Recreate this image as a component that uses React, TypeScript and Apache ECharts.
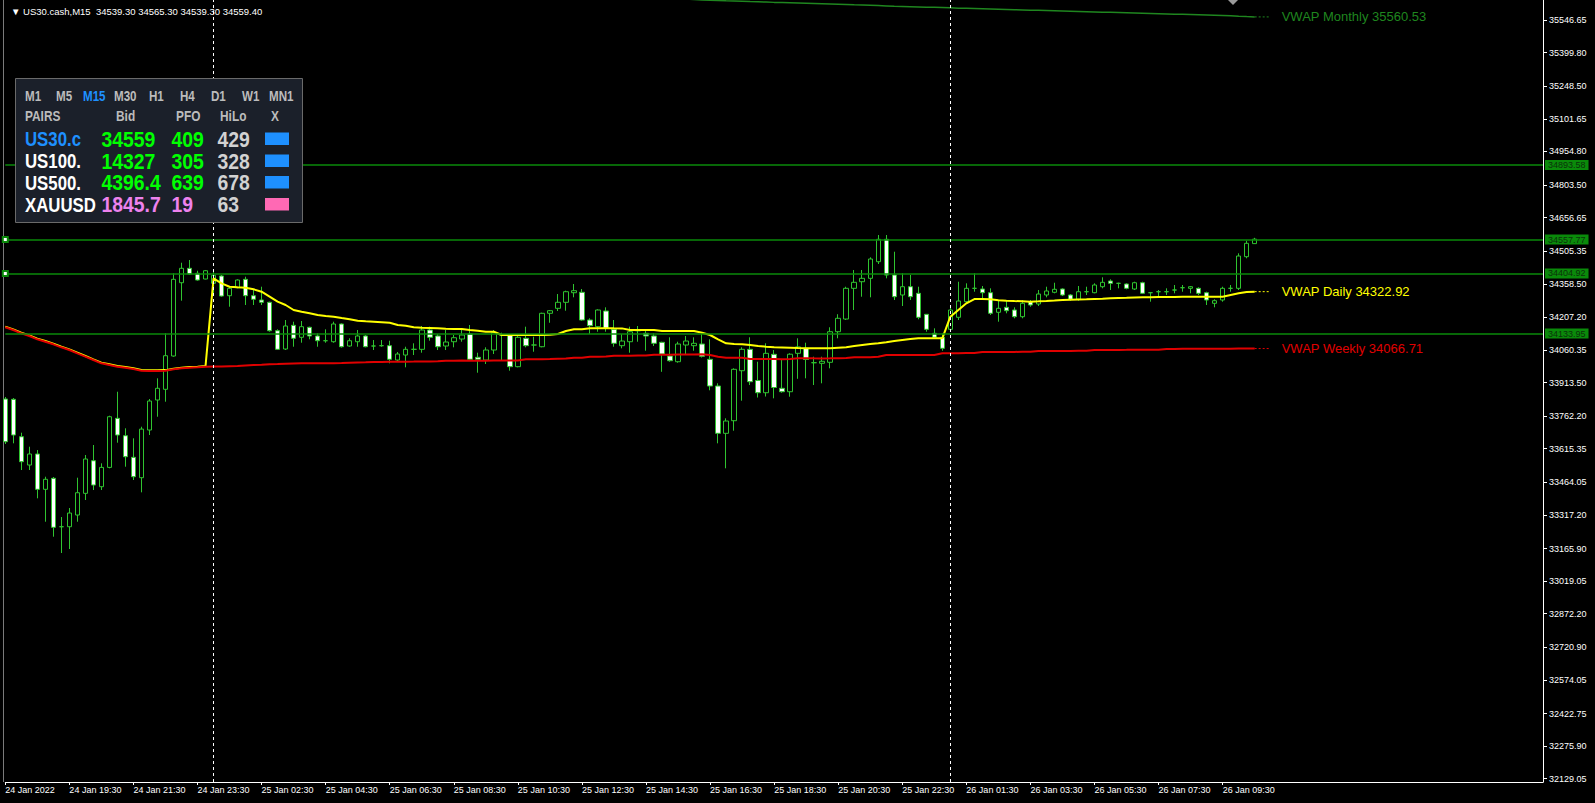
import React, { useEffect, useRef } from 'react';
import * as echarts from 'echarts';

// ---------- texts ----------
const headerText = '▼ US30.cash,M15  34539.30 34565.30 34539.30 34559.40';
const firstDateLabel = '24 Jan 2022';

// ---------- sessions (M15 bars; market closed 00:00-01:00) ----------
const sessions = [
  { day: '24 Jan', startMinute: 17 * 60 + 30, bars: 26 },
  { day: '25 Jan', startMinute: 60, bars: 92 },
  { day: '26 Jan', startMinute: 60, bars: 75 },
];
const daySeparators = [26, 118];

// ---------- candles [open, high, low, close] ----------
const bars: [number, number, number, number][] = [
  [33839.4, 33848.4, 33636.7, 33647.0], // 0
  [33838.0, 33843.9, 33639.8, 33677.2],
  [33669.5, 33687.6, 33519.5, 33556.9],
  [33542.0, 33624.4, 33519.5, 33591.6],
  [33591.6, 33609.6, 33392.0, 33432.6],
  [33432.6, 33489.4, 33286.6, 33477.7],
  [33482.2, 33488.0, 33219.1, 33261.4],
  [33264.1, 33307.8, 33145.6, 33264.1],
  [33264.1, 33348.4, 33163.7, 33325.8],
  [33316.8, 33484.9, 33286.6, 33417.2],
  [33414.5, 33587.1, 33384.4, 33569.1], // 10
  [33561.4, 33632.2, 33429.4, 33451.9],
  [33444.3, 33549.7, 33429.4, 33531.3],
  [33531.3, 33764.1, 33527.2, 33759.6],
  [33752.4, 33872.2, 33642.5, 33677.2],
  [33674.0, 33707.4, 33534.4, 33579.4],
  [33576.7, 33662.3, 33474.5, 33489.4],
  [33484.9, 33714.6, 33419.0, 33703.8],
  [33699.7, 33839.4, 33677.2, 33830.4],
  [33834.9, 33932.6, 33759.6, 33887.6],
  [33883.1, 34135.4, 33827.2, 34034.4], // 20
  [34033.1, 34405.6, 34030.0, 34378.5],
  [34363.2, 34453.3, 34282.2, 34428.1],
  [34428.1, 34465.5, 34397.9, 34402.4],
  [34405.6, 34417.3, 34372.3, 34375.4],
  [34379.9, 34420.5, 34378.5, 34417.3],
  [34360.5, 34411.5, 34307.9, 34396.6],
  [34393.4, 34397.9, 34300.2, 34303.3],
  [34304.7, 34345.2, 34255.1, 34338.0],
  [34340.7, 34378.5, 34338.0, 34375.4],
  [34378.5, 34390.3, 34262.8, 34304.7], // 30
  [34304.7, 34330.4, 34262.8, 34288.5],
  [34285.3, 34345.2, 34262.8, 34275.0],
  [34275.0, 34277.7, 34142.5, 34147.0],
  [34147.0, 34153.3, 34060.1, 34063.2],
  [34064.6, 34195.2, 34060.1, 34168.3],
  [34171.3, 34187.6, 34074.9, 34112.8],
  [34117.3, 34190.7, 34093.0, 34165.1],
  [34162.4, 34165.1, 34108.3, 34123.2],
  [34123.2, 34135.3, 34074.9, 34101.9],
  [34101.9, 34153.3, 34093.0, 34101.9], // 40
  [34097.4, 34187.6, 34093.0, 34177.2],
  [34177.2, 34180.0, 34071.0, 34074.9],
  [34078.1, 34112.8, 34074.9, 34101.9],
  [34097.4, 34150.2, 34074.9, 34123.2],
  [34123.2, 34127.7, 34072.2, 34074.9],
  [34078.1, 34105.1, 34060.1, 34078.1],
  [34079.5, 34105.1, 34074.9, 34079.5],
  [34079.5, 34102.0, 34000.2, 34018.2],
  [34015.0, 34051.0, 34006.0, 34042.0],
  [34037.5, 34074.9, 33982.2, 34063.2], // 50
  [34063.2, 34090.3, 34037.5, 34063.2],
  [34063.2, 34168.2, 34047.9, 34150.2],
  [34150.2, 34165.1, 34102.0, 34117.3],
  [34123.2, 34132.2, 34060.1, 34074.9],
  [34078.1, 34150.2, 34060.1, 34096.1],
  [34097.4, 34127.7, 34072.2, 34115.5],
  [34109.6, 34150.2, 34097.4, 34127.7],
  [34132.2, 34172.7, 34015.0, 34018.2],
  [34027.2, 34047.9, 33957.8, 34018.2],
  [34015.0, 34072.2, 33997.0, 34060.1], // 60
  [34060.1, 34150.2, 34042.0, 34138.0],
  [34127.7, 34138.0, 34015.0, 34127.7],
  [34127.7, 34132.2, 33966.9, 33984.9],
  [33984.9, 34123.2, 33982.2, 34117.3],
  [34112.8, 34165.1, 34072.2, 34079.5],
  [34082.6, 34120.0, 34052.4, 34082.6],
  [34074.9, 34228.1, 34072.2, 34225.4],
  [34225.4, 34240.3, 34182.9, 34237.1],
  [34247.9, 34312.3, 34235.8, 34275.0],
  [34275.0, 34327.2, 34237.1, 34322.7], // 70
  [34318.2, 34357.4, 34297.5, 34327.2],
  [34320.0, 34334.9, 34192.1, 34195.2],
  [34195.2, 34202.9, 34132.2, 34169.6],
  [34165.1, 34243.4, 34142.5, 34240.3],
  [34235.8, 34252.4, 34142.5, 34157.8],
  [34153.3, 34195.2, 34074.9, 34090.3],
  [34079.5, 34132.2, 34067.7, 34100.6],
  [34097.4, 34165.1, 34047.9, 34142.5],
  [34147.0, 34168.2, 34097.4, 34147.0],
  [34135.3, 34150.2, 34056.9, 34123.2], // 80
  [34123.2, 34135.3, 34078.1, 34090.3],
  [34094.8, 34097.4, 33961.9, 34042.0],
  [34033.0, 34117.3, 34007.4, 34011.9],
  [34007.4, 34097.4, 34002.9, 34087.1],
  [34082.6, 34123.2, 34042.0, 34100.6],
  [34079.5, 34117.3, 34056.9, 34090.3],
  [34087.1, 34135.3, 34026.3, 34031.7],
  [34018.2, 34108.3, 33878.6, 33897.9],
  [33897.9, 33910.1, 33639.8, 33684.8],
  [33684.8, 33752.4, 33527.2, 33740.3], // 90
  [33741.6, 33977.6, 33696.6, 33973.1],
  [33966.8, 34072.2, 33831.7, 34063.2],
  [34063.2, 34117.3, 33902.4, 33917.3],
  [33922.7, 34007.4, 33846.1, 33867.7],
  [33867.7, 34090.3, 33850.6, 34045.2],
  [34040.7, 34060.1, 33842.5, 33891.2],
  [33887.6, 34015.0, 33867.7, 33872.2],
  [33872.2, 34045.2, 33849.7, 34041.2],
  [34045.2, 34112.8, 33930.4, 34074.0],
  [34067.7, 34093.0, 33932.6, 34017.3], // 100
  [34002.9, 34029.9, 33902.4, 34002.9],
  [34000.2, 34029.9, 33910.1, 34009.2],
  [34004.7, 34162.4, 33977.6, 34142.5],
  [34142.5, 34221.3, 34112.8, 34202.9],
  [34199.7, 34345.2, 34195.2, 34338.0],
  [34338.0, 34420.5, 34240.3, 34365.0],
  [34367.7, 34420.5, 34300.2, 34383.0],
  [34383.0, 34477.7, 34297.5, 34470.0],
  [34457.8, 34578.1, 34447.5, 34558.7],
  [34558.7, 34578.1, 34383.0, 34397.9], // 110
  [34397.9, 34502.9, 34285.3, 34300.2],
  [34307.9, 34405.6, 34258.3, 34345.2],
  [34345.2, 34397.9, 34285.3, 34300.2],
  [34315.5, 34345.2, 34198.4, 34207.4],
  [34220.9, 34222.2, 34142.5, 34153.3],
  [34135.3, 34157.8, 34112.8, 34117.3],
  [34117.3, 34135.3, 34056.9, 34067.7],
  [34153.3, 34252.4, 34142.5, 34240.3],
  [34207.4, 34367.7, 34195.2, 34280.8],
  [34277.7, 34360.5, 34270.5, 34338.0], // 120
  [34338.0, 34405.6, 34322.7, 34338.0],
  [34334.9, 34348.4, 34285.3, 34318.2],
  [34318.2, 34338.0, 34217.8, 34225.4],
  [34229.9, 34285.3, 34187.6, 34247.9],
  [34252.4, 34285.3, 34225.4, 34237.1],
  [34240.3, 34252.4, 34202.9, 34210.1],
  [34210.1, 34285.3, 34202.9, 34270.5],
  [34277.7, 34285.3, 34255.1, 34262.8],
  [34267.3, 34330.4, 34258.3, 34312.3],
  [34307.9, 34345.2, 34297.5, 34325.9], // 130
  [34320.0, 34363.2, 34315.5, 34333.5],
  [34334.9, 34338.0, 34303.3, 34307.9],
  [34307.9, 34312.3, 34282.2, 34288.5],
  [34288.5, 34348.4, 34282.2, 34322.7],
  [34322.7, 34345.2, 34307.8, 34322.7],
  [34318.2, 34360.5, 34315.5, 34352.9],
  [34345.2, 34387.6, 34338.0, 34365.0],
  [34370.9, 34378.5, 34330.4, 34360.5],
  [34360.5, 34363.2, 34338.0, 34360.5],
  [34357.4, 34360.5, 34333.5, 34338.0], // 140
  [34334.9, 34367.7, 34330.4, 34363.2],
  [34363.2, 34367.7, 34312.3, 34315.5],
  [34318.2, 34321.4, 34277.7, 34318.2],
  [34322.7, 34330.4, 34303.3, 34322.7],
  [34322.7, 34338.0, 34307.9, 34322.7],
  [34330.4, 34352.9, 34315.5, 34330.4],
  [34340.7, 34352.9, 34322.7, 34340.7],
  [34338.0, 34348.4, 34315.5, 34345.2],
  [34338.0, 34342.5, 34307.9, 34315.5],
  [34318.2, 34322.7, 34262.8, 34285.3], // 150
  [34270.5, 34288.5, 34252.4, 34282.2],
  [34285.3, 34345.2, 34277.7, 34338.0],
  [34338.0, 34352.9, 34322.7, 34338.0],
  [34338.0, 34495.7, 34330.4, 34483.5],
  [34480.4, 34552.5, 34473.2, 34540.7],
  [34539.3, 34565.3, 34539.3, 34559.4], // 156
];

// ---------- VWAP indicator values ----------
const vwapDaily = [
  34165.4, 34153.2, 34138.3, 34126.2, 34111.3, 34100.4, 34088.7, 34075.2, 34063.1, 34048.2,
  34033.0, 34018.0, 34003.2, 33995.5, 33987.9, 33983.4, 33977.5, 33969.9, 33969.0, 33968.8,
  33969.5, 33976.1, 33980.6, 33983.4, 33985.2, 33987.9, 34383.0, 34360.5, 34345.2, 34342.5,
  34340.7, 34333.5, 34322.7, 34300.2, 34277.7, 34262.8, 34240.3, 34232.6, 34225.4, 34217.8,
  34213.3, 34210.1, 34204.2, 34198.4, 34192.1, 34189.8, 34187.6, 34185.3, 34183.0, 34172.7,
  34169.6, 34162.4, 34160.6, 34159.2, 34157.8, 34156.0, 34154.7, 34154.5, 34150.2, 34147.0,
  34142.5, 34142.3, 34127.7, 34127.5, 34127.4, 34127.6, 34127.5, 34127.9, 34128.3, 34132.2,
  34145.6, 34153.3, 34153.1, 34157.8, 34157.9, 34157.8, 34157.6, 34157.5, 34150.2, 34150.3,
  34150.1, 34150.0, 34145.6, 34145.4, 34145.5, 34145.7, 34145.8, 34138.0, 34127.7, 34108.3,
  34090.3, 34087.1, 34085.7, 34082.6, 34078.1, 34074.9, 34072.2, 34071.3, 34070.4, 34069.0,
  34067.7, 34067.6, 34067.5, 34067.7, 34070.4, 34072.2, 34078.1, 34082.6, 34087.1, 34090.3,
  34094.8, 34100.6, 34105.1, 34109.6, 34112.8, 34112.7, 34112.6, 34112.5, 34210.1, 34240.3,
  34270.5, 34289.8, 34289.7, 34288.5, 34284.0, 34282.2, 34280.8, 34279.5, 34277.7, 34279.2,
  34280.8, 34283.0, 34285.3, 34286.7, 34287.6, 34288.5, 34289.8, 34291.2, 34293.0, 34294.3,
  34295.2, 34296.6, 34297.5, 34297.9, 34298.8, 34298.9, 34299.0, 34299.7, 34299.8, 34300.2,
  34300.1, 34300.0, 34300.2, 34307.9, 34315.5, 34321.4, 34322.92,
];
const vwapWeekly = [
  34162.4, 34150.2, 34135.3, 34123.2, 34108.3, 34097.4, 34085.7, 34072.2, 34060.1, 34045.2,
  34030.0, 34015.0, 34000.2, 33992.5, 33984.9, 33980.4, 33974.5, 33966.9, 33966.0, 33965.8,
  33966.5, 33973.1, 33977.6, 33980.4, 33982.2, 33984.9, 33985.3, 33985.7, 33987.1, 33988.0,
  33990.3, 33992.5, 33993.9, 33995.7, 33997.0, 33998.4, 33999.3, 34000.2, 34000.4, 34000.6,
  34000.8, 34001.0, 34001.5, 34002.9, 34003.8, 34004.7, 34006.0, 34006.3, 34006.9, 34007.4,
  34007.6, 34007.8, 34008.3, 34008.6, 34009.0, 34011.9, 34012.1, 34012.3, 34012.0, 34011.9,
  34011.9, 34012.4, 34012.6, 34012.3, 34012.8, 34018.2, 34018.4, 34019.0, 34019.6, 34020.9,
  34021.5, 34025.4, 34025.4, 34030.0, 34030.2, 34030.5, 34034.4, 34034.4, 34034.6, 34034.9,
  34035.2, 34038.9, 34039.1, 34039.2, 34039.5, 34039.8, 34040.2, 34040.5, 34037.5, 34030.0,
  34025.4, 34025.4, 34025.6, 34019.5, 34019.3, 34019.4, 34019.2, 34019.0, 34019.5, 34022.7,
  34022.7, 34022.5, 34022.4, 34022.6, 34023.0, 34024.1, 34027.2, 34027.5, 34028.0, 34029.5,
  34037.5, 34037.6, 34037.8, 34038.0, 34037.9, 34037.7, 34037.5, 34045.2, 34045.5, 34046.0,
  34046.5, 34047.0, 34051.0, 34051.2, 34051.3, 34051.5, 34051.6, 34051.8, 34052.0, 34055.5,
  34055.7, 34055.9, 34056.0, 34056.1, 34056.2, 34056.4, 34060.1, 34060.3, 34060.5, 34060.6,
  34060.7, 34060.9, 34061.0, 34061.2, 34061.3, 34065.0, 34065.2, 34065.4, 34065.5, 34065.6,
  34065.7, 34065.8, 34066.0, 34066.2, 34066.4, 34066.6, 34066.71,
];
const vwapMonthlyFirstBar = 84; // earlier values lie above the visible range
const vwapMonthly = [
  35643, 35641, 35639, 35637, 35636, 35634.5, 35633, 35632, 35631, 35629.5,
  35628.5, 35627.5, 35626, 35625, 35624, 35623, 35622, 35621, 35620, 35619,
  35618, 35616.5, 35615, 35614, 35613, 35611.5, 35610, 35608.5, 35607.5, 35606.5,
  35605.5, 35604.5, 35603.5, 35602.5, 35601.5, 35600, 35599, 35598, 35597, 35596,
  35595, 35594, 35593, 35592, 35591, 35590, 35589, 35588, 35587, 35586,
  35585, 35584, 35583, 35582, 35581, 35580, 35579, 35578, 35577, 35576,
  35575, 35574, 35573, 35572, 35571, 35570, 35569, 35568, 35567, 35565.5,
  35563.5, 35562, 35560.53,
];

// ---------- horizontal levels ----------
const levels = [34893.58, 34557.77, 34404.92, 34133.95];
const selectedLevels = [34557.77, 34404.92];

// ---------- price axis ----------
const yMin = 32114.2;
const yMax = 35636.7;
const yTickValues = [
  35546.65, 35399.8, 35248.5, 35101.65, 34954.8, 34803.5, 34656.65, 34505.35,
  34358.5, 34207.2, 34060.35, 33913.5, 33762.2, 33615.35, 33464.05, 33317.2,
  33165.9, 33019.05, 32872.2, 32720.9, 32574.05, 32422.75, 32275.9, 32129.05,
];

// ---------- dashboard panel ----------
const timeframes = ['M1', 'M5', 'M15', 'M30', 'H1', 'H4', 'D1', 'W1', 'MN1'];
const activeTimeframe = 'M15';
const panelHeaders = ['PAIRS', 'Bid', 'PFO', 'HiLo', 'X'];
const panelPairs = ['US30.c', 'US100.', 'US500.', 'XAUUSD'];
const panelBid = ['34559', '14327', '4396.4', '1845.7'];
const panelPfo = ['409', '305', '639', '19'];
const panelHiLo = ['429', '328', '678', '63'];

function pad2(n: number) {
  return n < 10 ? '0' + n : String(n);
}

function buildCategories(): string[] {
  const out: string[] = [];
  sessions.forEach((s) => {
    for (let i = 0; i < s.bars; i++) {
      const m = s.startMinute + i * 15;
      out.push(`${s.day} ${pad2(Math.floor(m / 60))}:${pad2(m % 60)}`);
    }
  });
  return out;
}

const FONT = 'Liberation Sans';
const GREEN = '#2fc42f';

function buildOption() {
  const categories = buildCategories();
  const nBars = bars.length;
  const last = nBars - 1;
  const candleData = bars.map(([o, h, l, c]) => [o, c, l, h]);
  const monthlyData = categories.map((_, i) =>
    i >= vwapMonthlyFirstBar && i - vwapMonthlyFirstBar < vwapMonthly.length ? vwapMonthly[i - vwapMonthlyFirstBar] : null
  );
  const padSeries = (arr: number[]) => categories.map((_, i) => (i < arr.length ? arr[i] : null));
  const ext = (arr: number[]) => {
    const v = arr[arr.length - 1];
    return categories.map((_, i) => (i >= last && i <= last + 2 ? v : null));
  };
  const showAt = (index: number) => index % 8 === 0 && index < nBars;

  const extSeries = (name: string, arr: number[], color: string) => ({
    type: 'line',
    name: name + ' ext',
    data: ext(arr),
    symbol: 'none',
    silent: true,
    z: 6,
    lineStyle: { color, width: 1, type: [2, 2] },
    endLabel: {
      show: true,
      formatter: `${name} ${arr[arr.length - 1].toFixed(2)}`,
      color,
      fontSize: 13,
      fontFamily: FONT,
      distance: 11,
    },
  });

  const markLineData: any[] = [];
  levels.forEach((lv) => {
    const sel = selectedLevels.indexOf(lv) >= 0;
    markLineData.push({
      yAxis: lv,
      symbol: sel ? 'emptyRect' : 'none',
      symbolSize: 5,
      lineStyle: { color: '#0a8a0a', width: 1.5, type: 'solid' },
      label: {
        show: true,
        position: 'end',
        distance: 2,
        formatter: (p: any) => Number(p.value).toFixed(2),
        color: '#0b330b',
        backgroundColor: '#0a8a0a',
        padding: [1, 3, 0, 3],
        fontSize: 9,
        fontFamily: FONT,
      },
    });
  });
  daySeparators.forEach((idx) => {
    markLineData.push({
      xAxis: categories[idx],
      symbol: 'none',
      lineStyle: { color: '#ffffff', width: 1, type: [3, 3] },
      label: { show: false },
    });
  });

  // panel graphic
  const PZ = 100;
  const tfX = [25, 56, 83, 114, 149, 180, 211, 242, 269];
  const hdrX = [25, 116, 176, 220, 271];
  const rowY = [139, 161, 182.5, 204.5];
  const nameColors = ['#1e90ff', '#ffffff', '#ffffff', '#ffffff'];
  const valColors = ['#00ff00', '#00ff00', '#00ff00', '#ee82ee'];
  const swatchColors = ['#1e90ff', '#1e90ff', '#1e90ff', '#ff69b4'];
  const txt = (x: number, y: number, text: string, fill: string, size: number, sx: number) => ({
    type: 'text',
    x,
    y,
    z: PZ + 1,
    scaleX: sx,
    style: {
      text,
      fill,
      fontSize: size,
      fontWeight: 'bold',
      fontFamily: FONT,
      verticalAlign: 'middle',
      textVerticalAlign: 'middle',
    },
  });
  const panelChildren: any[] = [
    {
      type: 'rect',
      z: PZ,
      shape: { x: 15.5, y: 78.5, width: 287, height: 144 },
      style: { fill: '#1b202a', stroke: '#6a6a6a', lineWidth: 1 },
    },
  ];
  timeframes.forEach((t, i) =>
    panelChildren.push(txt(tfX[i], 96.5, t, t === activeTimeframe ? '#1e90ff' : '#bcbcbc', 14.5, 0.8))
  );
  panelHeaders.forEach((t, i) => panelChildren.push(txt(hdrX[i], 116, t, '#bcbcbc', 14.5, 0.82)));
  panelPairs.forEach((p, r) => {
    panelChildren.push(txt(25, rowY[r], p, nameColors[r], 21, 0.8));
    panelChildren.push(txt(101.5, rowY[r], panelBid[r], valColors[r], 22, 0.88));
    panelChildren.push(txt(171.5, rowY[r], panelPfo[r], valColors[r], 22, 0.88));
    panelChildren.push(txt(217.5, rowY[r], panelHiLo[r], '#d2d2d2', 22, 0.88));
    panelChildren.push({
      type: 'rect',
      z: PZ + 1,
      shape: { x: 265, y: rowY[r] - 6.5, width: 24, height: 12.5 },
      style: { fill: swatchColors[r] },
    });
  });

  return {
    backgroundColor: '#000000',
    animation: false,
    title: {
      text: headerText,
      left: 6,
      top: 1,
      textStyle: { color: '#ffffff', fontSize: 9.5, fontWeight: 'normal', fontFamily: FONT },
    },
    grid: { left: 5.3, right: 52, top: 0, bottom: 21, containLabel: false },
    xAxis: {
      type: 'category',
      data: categories,
      boundaryGap: false,
      axisLine: { show: true, lineStyle: { color: '#ffffff', width: 1 } },
      axisTick: { show: true, interval: (i: number) => showAt(i), length: 3, lineStyle: { color: '#ffffff' } },
      axisLabel: {
        interval: (i: number) => showAt(i),
        formatter: (v: string, i: number) => (i === 0 ? firstDateLabel : v),
        align: 'left',
        color: '#ffffff',
        fontSize: 9,
        fontFamily: FONT,
        margin: 3,
      },
      splitLine: { show: false },
    },
    yAxis: {
      type: 'value',
      position: 'right',
      min: yMin,
      max: yMax,
      axisLine: { show: true, lineStyle: { color: '#ffffff', width: 1 } },
      axisTick: { show: true, customValues: yTickValues, length: 4, lineStyle: { color: '#ffffff' } },
      axisLabel: {
        customValues: yTickValues,
        formatter: (v: number) => v.toFixed(2),
        color: '#ffffff',
        fontSize: 9,
        fontFamily: FONT,
        margin: 6,
      },
      splitLine: { show: false },
    },
    series: [
      {
        type: 'candlestick',
        name: 'US30.cash',
        data: candleData,
        barWidth: 5,
        z: 2,
        itemStyle: {
          color: '#000000',
          color0: '#ffffff',
          borderColor: GREEN,
          borderColor0: GREEN,
          borderWidth: 1,
        },
      },
      {
        type: 'line',
        name: 'VWAP Daily',
        data: padSeries(vwapDaily),
        symbol: 'none',
        z: 3,
        lineStyle: { color: '#ffff00', width: 2 },
      },
      {
        type: 'line',
        name: 'VWAP Weekly',
        data: padSeries(vwapWeekly),
        symbol: 'none',
        z: 4,
        lineStyle: { color: '#e00000', width: 2 },
        markLine: { silent: true, symbol: 'none', animation: false, data: markLineData },
      },
      {
        type: 'line',
        name: 'VWAP Monthly',
        data: monthlyData,
        symbol: 'none',
        z: 4,
        lineStyle: { color: '#1f861f', width: 1.5 },
      },
      extSeries('VWAP Monthly', vwapMonthly, '#1f861f'),
      extSeries('VWAP Daily', vwapDaily, '#ffff00'),
      extSeries('VWAP Weekly', vwapWeekly, '#e00000'),
    ],
    graphic: [
      {
        type: 'line',
        shape: { x1: 3.5, y1: 0, x2: 3.5, y2: 782 },
        style: { stroke: '#7a7a7a', lineWidth: 1 },
        silent: true,
      },
      {
        type: 'polygon',
        shape: { points: [[1228, 0], [1238, 0], [1233, 5]] },
        style: { fill: '#9a9a9a' },
        silent: true,
      },
      { type: 'group', z: PZ, children: panelChildren, silent: true },
    ],
  };
}

export default function App() {
  const ref = useRef<HTMLDivElement>(null);
  useEffect(() => {
    if (!ref.current) return;
    const chart = echarts.init(ref.current, null, { renderer: 'svg' });
    chart.setOption(buildOption() as any);
    return () => chart.dispose();
  }, []);
  return (
    <div
      ref={ref}
      style={{ position: 'fixed', left: 0, top: 0, width: 1595, height: 803, background: '#000000' }}
    />
  );
}
